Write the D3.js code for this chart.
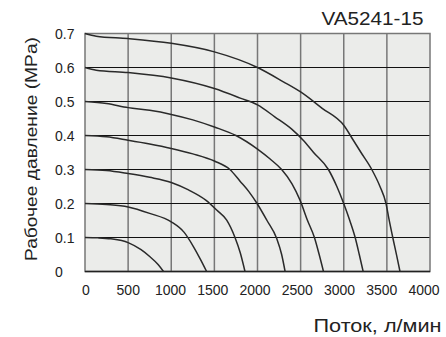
<!DOCTYPE html>
<html><head><meta charset="utf-8">
<script src="https://cdn.jsdelivr.net/npm/d3@7"></script>
<style>html,body{margin:0;padding:0;background:#fff;}svg{display:block;font-family:"Liberation Sans",Arial,sans-serif;}</style>
</head><body><svg id="c" width="446" height="337"></svg>
<script>
const title = "VA5241-15";
const xTitle = "Поток, л/мин";
const yTitle = "Рабочее давление (MPa)";
const xTicks = [0,500,1000,1500,2000,2500,3000,3500,4000];
const yTicks = [0,0.1,0.2,0.3,0.4,0.5,0.6,0.7];

const curve01 = [[0,0.1],[150,0.099],[300,0.096],[500,0.085],[650,0.064],[750,0.044],[850,0.02],[910,0]];
const curve02 = [[0,0.2],[250,0.197],[500,0.19],[750,0.171],[1000,0.146],[1150,0.115],[1260,0.072],[1340,0.035],[1410,0]];
const curve03 = [[0,0.3],[250,0.297],[500,0.288],[750,0.277],[1000,0.262],[1200,0.24],[1400,0.21],[1530,0.18],[1643,0.151],[1739,0.1],[1800,0.055],[1855,0]];
const curve04 = [[0,0.4],[250,0.396],[500,0.386],[750,0.375],[1000,0.362],[1250,0.346],[1500,0.325],[1680,0.3],[1800,0.265],[1900,0.235],[1995,0.2],[2110,0.15],[2223,0.097],[2280,0.05],[2320,0]];
const curve05 = [[0,0.5],[250,0.494],[500,0.482],[750,0.474],[1000,0.462],[1250,0.446],[1500,0.425],[1750,0.4],[2000,0.36],[2150,0.33],[2280,0.3],[2400,0.258],[2493,0.21],[2580,0.15],[2660,0.1],[2715,0.05],[2765,0]];
const curve06 = [[0,0.6],[130,0.592],[500,0.585],[1000,0.569],[1500,0.538],[1800,0.51],[2000,0.49],[2200,0.455],[2400,0.418],[2530,0.386],[2650,0.35],[2822,0.3],[2920,0.25],[2995,0.203],[3070,0.15],[3130,0.102],[3180,0.05],[3225,0]];
const curve07 = [[0,0.7],[130,0.692],[500,0.685],[1000,0.671],[1500,0.646],[2000,0.6],[2300,0.558],[2500,0.528],[2750,0.48],[3000,0.43],[3111,0.386],[3200,0.35],[3325,0.3],[3420,0.25],[3490,0.2],[3520,0.16],[3575,0.092],[3615,0.045],[3652,0]];
const curves = [curve01,curve02,curve03,curve04,curve05,curve06,curve07];

const svg = d3.select("#c");
const x = d3.scaleLinear().domain([0,4000]).range([85,430]);
const xLab = d3.scaleLinear().domain([0,4000]).range([85.5,423.5]);
const y = d3.scaleLinear().domain([0,0.7]).range([271.5,33.5]);

// plot background
svg.append("rect").attr("x",x(0)).attr("y",y(0.7)).attr("width",x(4000)-x(0)).attr("height",y(0)-y(0.7)).attr("fill","#ebecea");

// vertical grid (gray)
svg.append("g").selectAll("line").data(xTicks.slice(1,-1)).join("line")
  .attr("x1",d=>x(d)).attr("x2",d=>x(d)).attr("y1",y(0.7)).attr("y2",y(0))
  .attr("stroke","#777").attr("stroke-width",1.5);
// horizontal grid (black)
svg.append("g").selectAll("line").data(yTicks.slice(1,-1)).join("line")
  .attr("x1",x(0)).attr("x2",x(4000)).attr("y1",d=>y(d)).attr("y2",d=>y(d))
  .attr("stroke","#111").attr("stroke-width",1.2);
// border
svg.append("rect").attr("x",x(0)).attr("y",y(0.7)).attr("width",x(4000)-x(0)).attr("height",y(0)-y(0.7))
  .attr("fill","none").attr("stroke","#777").attr("stroke-width",1.5);
svg.append("line").attr("x1",x(0)).attr("x2",x(4000)).attr("y1",y(0)).attr("y2",y(0)).attr("stroke","#222").attr("stroke-width",1.5);

// curves
const line = d3.line().x(d=>x(d[0])).y(d=>y(d[1])).curve(d3.curveMonotoneX);
svg.append("g").selectAll("path").data(curves).join("path")
  .attr("d",line).attr("fill","none").attr("stroke","#2a2a2a").attr("stroke-width",1.5);

// x tick labels
const xa = svg.append("g").attr("transform",`translate(0,${y(0)})`)
  .call(d3.axisBottom(xLab).tickValues(xTicks).tickFormat(d3.format("d")).tickSize(0).tickPadding(0));
xa.select(".domain").remove();
xa.selectAll("text").attr("y",23.5).attr("dy",null).attr("font-size",14).attr("fill","#222").attr("font-family",null);

// y tick labels
const ya = svg.append("g").attr("transform","translate(55,0)")
  .call(d3.axisLeft(y).tickValues(yTicks).tickFormat(d=>d===0?"0":d3.format(".1f")(d)).tickSize(0).tickPadding(0));
ya.select(".domain").remove();
ya.selectAll("text").attr("x",0).attr("text-anchor","start").attr("dy","0.36em").attr("font-size",14).attr("fill","#222").attr("font-family",null);

// titles
svg.append("text").attr("x",423.5).attr("y",24.5).attr("text-anchor","end").attr("font-size",18).attr("fill","#222")
  .attr("textLength",102).attr("lengthAdjust","spacingAndGlyphs").text(title);
svg.append("text").attr("x",441.5).attr("y",331.5).attr("text-anchor","end").attr("font-size",18).attr("fill","#222")
  .attr("textLength",128).attr("lengthAdjust","spacingAndGlyphs").text(xTitle);
svg.append("text").attr("transform","translate(37,149) rotate(-90)").attr("text-anchor","middle").attr("font-size",17).attr("fill","#222")
  .attr("textLength",224).attr("lengthAdjust","spacingAndGlyphs").text(yTitle);
</script></body></html>
